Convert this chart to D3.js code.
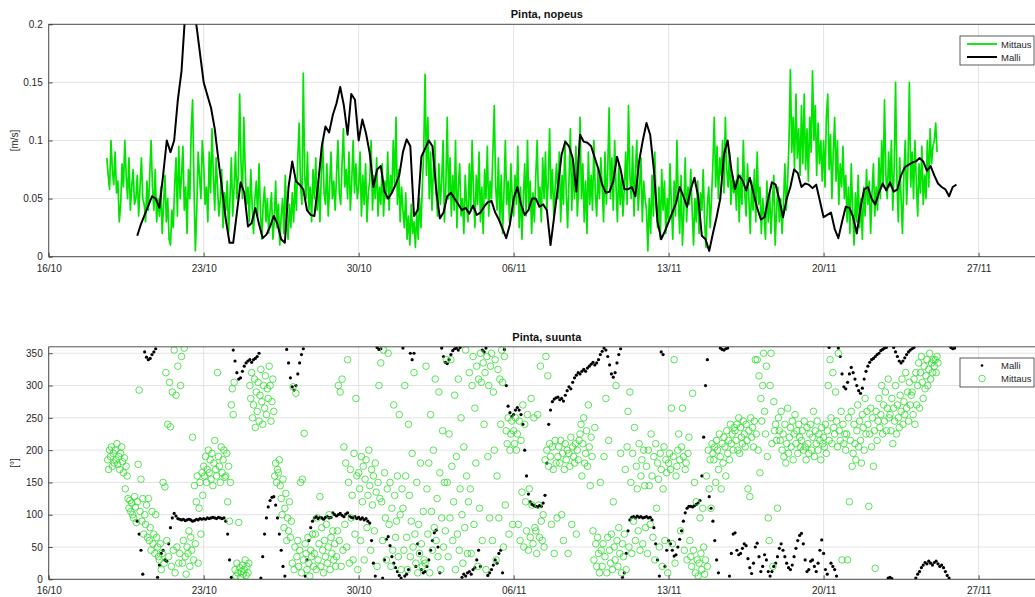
<!DOCTYPE html>
<html>
<head>
<meta charset="utf-8">
<script src="https://cdn.jsdelivr.net/npm/d3@7"></script>
<style>
body { margin: 0; background: #fff; }
svg { font-family: "Liberation Sans", Arial, Helvetica, sans-serif; }
</style>
</head>
<body>
<svg width="1035" height="597"></svg>
<script>
// x ticks (every 7 days) and y ticks
const dateTicks = ['2017-10-16', '2017-10-23', '2017-10-30', '2017-11-06', '2017-11-13', '2017-11-20', '2017-11-27'];
const speedTicks = [0, 0.05, 0.1, 0.15, 0.2];
const dirTicks = [0, 50, 100, 150, 200, 250, 300, 350];

// surface speed, measured (1.5 h steps), one row per day
const speedObsStart = '2017-10-18T15:00Z';
const speedObs = [
  0.085, 0.07, 0.058, 0.1, 0.075, 0.062,
  0.09, 0.055, 0.065, 0.03, 0.045, 0.08, 0.06, 0.1, 0.07, 0.05, 0.085, 0.04, 0.06, 0.075, 0.045, 0.05,
  0.07, 0.035, 0.06, 0.085, 0.05, 0.045, 0.03, 0.065, 0.04, 0.07, 0.1, 0.06, 0.04, 0.075, 0.03, 0.05,
  0.035, 0.06, 0.02, 0.045, 0.07, 0.03, 0.05, 0.015, 0.01, 0.04, 0.025, 0.06, 0.085, 0.035, 0.095, 0.05,
  0.07, 0.095, 0.04, 0.06, 0.02, 0.075, 0.05, 0.11, 0.135, 0.06, 0.005, 0.04, 0.09, 0.07, 0.05, 0.1,
  0.08, 0.045, 0.06, 0.03, 0.09, 0.055, 0.11, 0.07, 0.04, 0.085, 0.06, 0.035, 0.05, 0.075, 0.025, 0.055,
  0.04, 0.065, 0.02, 0.05, 0.085, 0.035, 0.06, 0.09, 0.05, 0.07, 0.14, 0.08, 0.05, 0.12, 0.075, 0.045,
  0.06, 0.03, 0.075, 0.045, 0.02, 0.05, 0.065, 0.035, 0.08, 0.04, 0.015, 0.045, 0.06, 0.03, 0.05, 0.02,
  0.04, 0.055, 0.015, 0.03, 0.065, 0.025, 0.045, 0.01, 0.035, 0.05, 0.02, 0.07, 0.03, 0.015, 0.045, 0.025,
  0.055, 0.03, 0.065, 0.04, 0.085, 0.115, 0.06, 0.045, 0.158, 0.07, 0.05, 0.09, 0.04, 0.06, 0.03, 0.075,
  0.05, 0.085, 0.04, 0.065, 0.03, 0.07, 0.1, 0.055, 0.045, 0.08, 0.035, 0.06, 0.09, 0.05, 0.065, 0.04,
  0.07, 0.1, 0.055, 0.045, 0.08, 0.11, 0.06, 0.075, 0.05, 0.09, 0.04, 0.065, 0.1, 0.055, 0.08, 0.05,
  0.06, 0.09, 0.035, 0.07, 0.045, 0.08, 0.03, 0.055, 0.065, 0.1, 0.04, 0.07, 0.05, 0.085, 0.035, 0.06,
  0.045, 0.08, 0.035, 0.065, 0.05, 0.09, 0.04, 0.07, 0.055, 0.1, 0.06, 0.12, 0.045, 0.075, 0.03, 0.06,
  0.04, 0.025, 0.055, 0.015, 0.035, 0.01, 0.045, 0.02, 0.03, 0.008, 0.04, 0.015, 0.05, 0.025, 0.06, 0.09,
  0.157, 0.07, 0.12, 0.05, 0.09, 0.04, 0.075, 0.1, 0.055, 0.035, 0.08, 0.045, 0.065, 0.1, 0.03, 0.06,
  0.12, 0.05, 0.085, 0.035, 0.07, 0.04, 0.1, 0.025, 0.06, 0.08, 0.035, 0.05, 0.02, 0.07, 0.045, 0.03,
  0.08, 0.04, 0.1, 0.055, 0.025, 0.07, 0.045, 0.09, 0.03, 0.06, 0.02, 0.075, 0.05, 0.095, 0.035, 0.065,
  0.05, 0.09, 0.13, 0.06, 0.04, 0.085, 0.03, 0.07, 0.02, 0.055, 0.1, 0.045, 0.065, 0.03, 0.08, 0.05,
  0.035, 0.07, 0.045, 0.095, 0.025, 0.06, 0.015, 0.05, 0.08, 0.035, 0.1, 0.04, 0.065, 0.02, 0.055, 0.03,
  0.07, 0.1, 0.045, 0.06, 0.03, 0.085, 0.05, 0.09, 0.04, 0.065, 0.11, 0.05, 0.075, 0.035, 0.06, 0.08,
  0.05, 0.09, 0.03, 0.07, 0.045, 0.1, 0.055, 0.025, 0.065, 0.11, 0.04, 0.08, 0.05, 0.095, 0.035, 0.06,
  0.12, 0.05, 0.08, 0.03, 0.065, 0.02, 0.09, 0.045, 0.07, 0.04, 0.1, 0.055, 0.035, 0.075, 0.05, 0.085,
  0.06, 0.03, 0.09, 0.045, 0.075, 0.128, 0.05, 0.085, 0.04, 0.1, 0.06, 0.03, 0.08, 0.045, 0.07, 0.035,
  0.06, 0.09, 0.045, 0.13, 0.07, 0.05, 0.095, 0.035, 0.075, 0.1, 0.04, 0.06, 0.085, 0.03, 0.065, 0.05,
  0.04, 0.005, 0.05, 0.02, 0.07, 0.035, 0.09, 0.045, 0.025, 0.06, 0.015, 0.075, 0.04, 0.065, 0.02, 0.05,
  0.03, 0.08, 0.045, 0.015, 0.065, 0.035, 0.1, 0.05, 0.02, 0.07, 0.01, 0.04, 0.085, 0.03, 0.06, 0.045,
  0.075, 0.04, 0.01, 0.05, 0.03, 0.065, 0.02, 0.055, 0.04, 0.075, 0.03, 0.008, 0.045, 0.06, 0.025, 0.05,
  0.08, 0.12, 0.06, 0.095, 0.05, 0.085, 0.07, 0.1, 0.055, 0.12, 0.075, 0.06, 0.09, 0.045, 0.07, 0.055,
  0.065, 0.04, 0.085, 0.03, 0.07, 0.045, 0.1, 0.055, 0.035, 0.08, 0.05, 0.02, 0.065, 0.04, 0.075, 0.03,
  0.09, 0.045, 0.06, 0.02, 0.05, 0.035, 0.015, 0.065, 0.03, 0.055, 0.02, 0.045, 0.07, 0.01, 0.04, 0.06,
  0.03, 0.05, 0.02, 0.045, 0.08, 0.04, 0.065, 0.1, 0.161, 0.09, 0.12, 0.075, 0.14, 0.085, 0.11, 0.07,
  0.13, 0.08, 0.14, 0.075, 0.11, 0.065, 0.12, 0.09, 0.16, 0.1, 0.13, 0.07, 0.115, 0.08, 0.1, 0.065,
  0.1, 0.06, 0.12, 0.14, 0.075, 0.105, 0.05, 0.09, 0.12, 0.065, 0.1, 0.045, 0.08, 0.06, 0.095, 0.05,
  0.07, 0.03, 0.06, 0.02, 0.08, 0.04, 0.01, 0.055, 0.03, 0.07, 0.025, 0.05, 0.015, 0.06, 0.035, 0.075,
  0.045, 0.065, 0.02, 0.055, 0.08, 0.035, 0.06, 0.04, 0.085, 0.05, 0.1, 0.06, 0.135, 0.07, 0.05, 0.09,
  0.06, 0.1, 0.04, 0.075, 0.15, 0.065, 0.03, 0.085, 0.05, 0.02, 0.07, 0.1, 0.045, 0.08, 0.15, 0.06,
  0.09, 0.05, 0.1, 0.065, 0.035, 0.08, 0.055, 0.095, 0.045, 0.07, 0.05, 0.1, 0.06, 0.11, 0.08, 0.095,
  0.1, 0.115, 0.09
];

// surface speed, model (4 h steps)
const speedModelStart = '2017-10-20T00:00Z';
const speedModel = [
  0.018, 0.028, 0.036, 0.044, 0.052, 0.050,
  0.042, 0.07, 0.100, 0.09, 0.10, 0.135,
  0.16, 0.21, 0.235, 0.23, 0.20, 0.175,
  0.15, 0.139, 0.128, 0.11, 0.083, 0.058,
  0.032, 0.012, 0.012, 0.038, 0.064, 0.055,
  0.026, 0.029, 0.042, 0.028, 0.016, 0.019,
  0.026, 0.035, 0.028, 0.015, 0.012, 0.06,
  0.082, 0.065, 0.062, 0.058, 0.04, 0.036,
  0.035, 0.062, 0.095, 0.112, 0.107, 0.122,
  0.132, 0.146, 0.13, 0.105, 0.14, 0.135,
  0.10, 0.118, 0.106, 0.089, 0.06, 0.075,
  0.078, 0.056, 0.05, 0.055, 0.062, 0.07,
  0.09, 0.101, 0.095, 0.035, 0.04, 0.086,
  0.093, 0.10, 0.095, 0.058, 0.033, 0.038,
  0.052, 0.055, 0.05, 0.045, 0.04, 0.042,
  0.037, 0.044, 0.036, 0.038, 0.043, 0.047,
  0.048, 0.038, 0.032, 0.024, 0.016, 0.028,
  0.05, 0.06, 0.045, 0.036, 0.04, 0.05,
  0.05, 0.043, 0.045, 0.04, 0.01, 0.035,
  0.06, 0.088, 0.099, 0.095, 0.085, 0.056,
  0.105, 0.099, 0.098, 0.095, 0.085, 0.075,
  0.062, 0.055, 0.056, 0.065, 0.086, 0.075,
  0.058, 0.058, 0.06, 0.052, 0.082, 0.10,
  0.115, 0.105, 0.075, 0.03, 0.015, 0.022,
  0.03, 0.038, 0.046, 0.06, 0.052, 0.043,
  0.058, 0.068, 0.052, 0.018, 0.015, 0.005,
  0.02, 0.034, 0.05, 0.088, 0.10, 0.075,
  0.058, 0.07, 0.066, 0.057, 0.068, 0.055,
  0.042, 0.032, 0.034, 0.05, 0.064, 0.062,
  0.049, 0.034, 0.05, 0.06, 0.075, 0.072,
  0.06, 0.063, 0.062, 0.059, 0.062, 0.048,
  0.034, 0.036, 0.038, 0.024, 0.016, 0.03,
  0.043, 0.042, 0.034, 0.02, 0.042, 0.058,
  0.06, 0.05, 0.045, 0.055, 0.063, 0.057,
  0.064, 0.056, 0.058, 0.07, 0.077, 0.079,
  0.081, 0.082, 0.085, 0.082, 0.074, 0.078,
  0.07, 0.063, 0.06, 0.058, 0.052, 0.06,
  0.062
];

// surface direction, measured (1 h steps), one row per day
const dirObsStart = '2017-10-18T16:00Z';
const dirObs = [
  185, 170, 200, 190, 205, 175, 195, 180,
  200, 185, 210, 178, 190, 170, 195, 205, 182, 165, 188, 140, 175, 160, 125, 110, 122, 105, 118, 100, 95, 128, 112, 88,
  120, 178, 293, 105, 155, 90, 125, 70, 100, 85, 115, 65, 125, 60, 80, 45, 105, 55, 70, 40, 100, 65, 50, 35,
  30, 55, 15, 40, 150, 25, 143, 320, 60, 240, 35, 305, 236, 20, 290, 45, 355, 10, 285, 50, 330, 25, 40, 300,
  345, 25, 60, 358, 35, 8, 50, 40, 75, 20, 65, 45, 220, 30, 145, 55, 120, 160, 25, 110, 150, 70, 165, 130,
  175, 160, 190, 150, 170, 200, 165, 185, 155, 195, 145, 180, 215, 170, 160, 320, 190, 175, 150, 205, 165, 185, 200, 158,
  160, 195, 120, 175, 90, 150, 270, 295, 255, 305, 15, 5, 25, 10, 88, 18, 3, 12, 22, 8, 15, 30, 6, 20,
  10, 25, 300, 280, 320, 250, 270, 310, 235, 290, 260, 305, 245, 285, 325, 275, 240, 300, 265, 315, 255, 295, 280, 330,
  300, 245, 275, 310, 260, 160, 180, 150, 170, 165, 185, 145, 125, 100, 155, 80, 110, 133, 60, 95, 75, 120, 65, 90,
  25, 298, 15, 50, 288, 35, 60, 20, 45, 150, 10, 155, 30, 226, 55, 40, 15, 65, 25, 5, 45, 35, 70, 20,
  40, 70, 15, 95, 30, 55, 128, 20, 80, 45, 10, 60, 35, 85, 25, 50, 100, 15, 65, 40, 75, 30, 55, 20,
  35, 75, 300, 60, 290, 20, 310, 45, 205, 85, 180, 50, 340, 150, 25, 170, 95, 130, 30, 195, 70, 280, 160, 15,
  165, 140, 60, 190, 120, 175, 30, 155, 185, 80, 130, 200, 145, 45, 170, 115, 160, 75, 180, 135, 20, 150, 300, 125,
  335, 120, 60, 355, 165, 95, 30, 140, 350, 85, 150, 20, 110, 45, 270, 130, 65, 90, 160, 35, 255, 100, 15, 140,
  110, 45, 300, 160, 65, 15, 240, 130, 35, 90, 195, 50, 320, 70, 25, 150, 10, 85, 40, 180, 55, 20, 105, 30,
  25, 330, 140, 70, 180, 10, 255, 105, 45, 200, 80, 310, 60, 125, 35, 290, 165, 15, 95, 230, 50, 150, 75, 340,
  150, 35, 225, 95, 340, 175, 60, 120, 285, 15, 190, 70, 310, 45, 140, 250, 100, 25, 205, 80, 355, 160, 40, 120,
  320, 140, 40, 300, 345, 85, 265, 180, 330, 20, 310, 110, 350, 305, 60, 335, 240, 320, 15, 345, 190, 300, 95, 330,
  350, 60, 290, 200, 340, 30, 160, 325, 95, 310, 240, 355, 305, 50, 345, 115, 230, 210, 250, 70, 200, 225, 245, 85,
  230, 210, 250, 200, 225, 85, 245, 60, 215, 135, 270, 50, 240, 120, 75, 255, 45, 140, 65, 280, 115, 55, 250, 80,
  75, 40, 255, 115, 65, 330, 90, 60, 100, 50, 185, 345, 200, 315, 175, 210, 190, 85, 205, 170, 40, 215, 180, 95,
  190, 205, 180, 215, 100, 195, 60, 170, 210, 185, 200, 40, 195, 175, 220, 85, 205, 190, 180, 210, 70, 200, 185, 215,
  225, 240, 160, 210, 250, 180, 195, 230, 175, 270, 205, 145, 220, 190, 75, 30, 235, 55, 20, 65, 40, 10, 150, 45,
  20, 55, 190, 35, 280, 10, 65, 215, 45, 25, 70, 15, 120, 50, 30, 300, 60, 20, 80, 40, 195, 10, 55, 35,
  70, 170, 15, 205, 260, 50, 290, 150, 40, 195, 90, 235, 60, 175, 140, 75, 210, 45, 160, 185, 55, 200, 145, 80,
  175, 40, 200, 145, 85, 225, 160, 65, 190, 30, 210, 110, 180, 155, 50, 195, 170, 20, 140, 205, 60, 185, 165, 10,
  180, 195, 170, 265, 55, 190, 340, 25, 160, 175, 200, 225, 185, 75, 205, 265, 190, 45, 170, 180, 30, 195, 220, 60,
  35, 20, 288, 45, 150, 10, 120, 30, 5, 25, 95, 40, 15, 110, 50, 8, 30, 160, 20, 200, 140, 185, 110, 210,
  195, 185, 205, 150, 215, 200, 170, 225, 190, 140, 210, 180, 220, 205, 160, 230, 195, 215, 185, 240, 210, 225, 200, 235,
  230, 215, 240, 200, 250, 195, 235, 220, 210, 245, 225, 205, 240, 215, 140, 230, 128, 250, 220, 235, 205, 245, 340, 225,
  340, 200, 315, 165, 280, 245, 300, 350, 260, 225, 330, 190, 95, 60, 300, 350, 210, 20, 275, 230, 240, 215, 110, 250,
  230, 215, 260, 200, 225, 190, 240, 180, 210, 265, 195, 220, 235, 205, 245, 185, 225, 255, 210, 230, 195, 240, 220, 205,
  215, 230, 200, 245, 205, 185, 235, 210, 195, 225, 240, 200, 220, 260, 190, 230, 210, 245, 200, 225, 215, 185, 235, 210,
  220, 205, 240, 195, 230, 300, 215, 340, 250, 210, 320, 235, 225, 290, 245, 205, 350, 230, 215, 260, 30, 240, 210, 225,
  200, 225, 30, 250, 120, 215, 260, 175, 195, 240, 210, 185, 230, 270, 205, 245, 215, 180, 255, 235, 200, 280, 225, 260,
  240, 113, 225, 265, 205, 250, 175, 230, 17, 260, 215, 245, 280, 235, 255, 300, 225, 270, 245, 290, 230, 265, 310, 250,
  255, 230, 280, 210, 265, 245, 300, 225, 270, 250, 235, 285, 260, 310, 240, 275, 255, 320, 265, 290, 245, 305, 270, 285,
  290, 255, 310, 240, 320, 270, 300, 335, 265, 320, 345, 305, 280, 330, 295, 315, 340, 300, 325, 350, 310, 335, 320, 340,
  330, 340, 320, 345, 335
];

// surface direction, model (2 h steps), one row per day
const dirModelStart = '2017-10-20T00:00Z';
const dirModel = [
  90, 70, 45, 8, 352, 344, 340, 342, 348, 352, 357, 3,
  22, 40, 45, 30, 28, 55, 80, 95, 102, 98, 94, 93,
  92, 93, 91, 92, 93, 92, 90, 91, 93, 92, 94, 93,
  94, 93, 95, 94, 95, 96, 95, 94, 96, 95, 94, 95,
  90, 70, 30, 3, 355, 338, 320, 310, 312, 322, 330, 335,
  338, 340, 336, 340, 342, 345, 350, 2, 35, 70, 95, 112,
  122, 127, 128, 115, 95, 70, 45, 20, 5, 356, 335, 312,
  298, 293, 300, 318, 335, 348, 357, 5, 30, 60, 80, 90,
  95, 97, 94, 96, 95, 93, 96, 97, 95, 96, 103, 100,
  98, 100, 102, 99, 97, 101, 103, 98, 96, 95, 97, 94,
  96, 93, 95, 92, 94, 90, 87, 60, 25, 5, 359, 356,
  357, 2, 30, 62, 66, 52, 35, 25, 18, 12, 6, 2,
  358, 5, 8, 15, 350, 340, 350, 20, 55, 40, 15, 10,
  12, 20, 30, 45, 60, 72, 76, 50, 10, 358, 345, 336,
  334, 340, 348, 354, 357, 358, 355, 359, 3, 8, 5, 10,
  12, 8, 15, 18, 30, 45, 20, 355, 352, 358, 6, 10,
  15, 22, 30, 25, 40, 45, 10, 356, 300, 268, 258, 252,
  255, 262, 266, 262, 255, 240, 200, 160, 132, 120, 116, 114,
  113, 112, 114, 113, 118, 130, 180, 240, 262, 275, 279, 281,
  282, 278, 280, 276, 285, 292, 298, 295, 305, 312, 316, 320,
  318, 322, 325, 322, 327, 330, 333, 336, 332, 335, 340, 348,
  353, 358, 355, 345, 332, 318, 313, 320, 335, 348, 357, 3,
  10, 40, 75, 92, 96, 97, 95, 98, 96, 97, 95, 96,
  97, 95, 96, 92, 80, 55, 30, 5, 352, 348, 20, 45,
  60, 55, 45, 36, 38, 50, 62, 75, 90, 103, 110, 113,
  113, 112, 114, 116, 118, 122, 160, 220, 300, 340, 128, 110,
  90, 60, 30, 10, 358, 356, 355, 357, 358, 5, 40, 70,
  72, 45, 38, 40, 48, 55, 52, 32, 18, 9, 25, 50,
  56, 35, 12, 20, 38, 30, 12, 5, 12, 20, 25, 35,
  48, 55, 45, 35, 25, 18, 15, 22, 35, 48, 60, 68,
  71, 55, 30, 12, 15, 28, 30, 20, 12, 25, 45, 61,
  40, 15, 8, 359, 25, 20, 15, 5, 358, 345, 318, 298,
  295, 305, 318, 328, 320, 310, 300, 292, 288, 296, 310, 322,
  330, 336, 340, 342, 345, 348, 350, 354, 356, 358, 359, 2,
  3, 1, 359, 352, 345, 338, 335, 338, 343, 348, 352, 355,
  357, 359, 2, 8, 12, 18, 22, 26, 24, 28, 25, 22,
  26, 28, 24, 20, 22, 18, 12, 6, 2, 359, 357, 358
];

const HOUR = 3600e3;
function series(start, stepHours, values) {
  const t0 = Date.parse(start);
  return values.map((v, i) => ({ t: new Date(t0 + i * stepHours * HOUR), v }));
}

const svg = d3.select('svg');
const left = 48.7, right = 1045;
const x = d3.scaleUtc()
  .domain([new Date(Date.parse('2017-10-16T00:00Z')), new Date(Date.parse('2017-11-30T00:00Z'))])
  .range([left, right]);
const tickDates = dateTicks.map(d => new Date(Date.parse(d + 'T00:00Z')));
const fmt = d3.utcFormat('%d/%m');

const axisColor = '#262626';
const green = '#00e400';
const circleGreen = '#2ddc2d';

function panel(top, bottom, yDomain, yTickVals, title, ylabel, id) {
  const y = d3.scaleLinear().domain(yDomain).range([bottom, top]);
  const g = svg.append('g');

  svg.append('clipPath').attr('id', id)
    .append('rect').attr('x', left).attr('y', top).attr('width', right - left).attr('height', bottom - top);

  // grid
  g.append('g').selectAll('line').data(tickDates).join('line')
    .attr('x1', d => x(d)).attr('x2', d => x(d)).attr('y1', top).attr('y2', bottom)
    .attr('stroke', '#e3e3e3').attr('stroke-width', 1);
  g.append('g').selectAll('line').data(yTickVals).join('line')
    .attr('x1', left).attr('x2', right).attr('y1', d => y(d)).attr('y2', d => y(d))
    .attr('stroke', '#e3e3e3').attr('stroke-width', 1);

  const plot = g.append('g').attr('clip-path', `url(#${id})`);

  // axes, ticks point inwards like matlab
  const xa = g.append('g').attr('transform', `translate(0,${bottom})`)
    .call(d3.axisBottom(x).tickValues(tickDates).tickFormat(fmt).tickSizeInner(-4).tickSizeOuter(0).tickPadding(8));
  const ya = g.append('g').attr('transform', `translate(${left},0)`)
    .call(d3.axisLeft(y).tickValues(yTickVals).tickFormat(d => String(d)).tickSizeInner(-4).tickSizeOuter(0).tickPadding(6));
  [xa, ya].forEach(a => {
    a.select('.domain').remove();
    a.selectAll('line').attr('stroke', axisColor).attr('stroke-width', 0.8);
    a.selectAll('text').attr('fill', axisColor).attr('font-size', 10);
  });

  // frame
  g.append('path')
    .attr('d', `M${right},${top}H${left}V${bottom}H${right}`)
    .attr('fill', 'none').attr('stroke', axisColor).attr('stroke-width', 0.8);

  g.append('text').attr('x', (left + right) / 2).attr('y', top - 6)
    .attr('text-anchor', 'middle').attr('font-size', 11).attr('font-weight', 'bold')
    .attr('fill', '#111').text(title);
  g.append('text')
    .attr('transform', `translate(18,${(top + bottom) / 2}) rotate(-90)`)
    .attr('text-anchor', 'middle').attr('font-size', 10).attr('fill', axisColor).text(ylabel);

  return { y, plot, g };
}

// top panel: speed
const p1 = panel(24.3, 256.7, [0, 0.2], speedTicks, 'Pinta, nopeus', '[m/s]', 'clipTop');
const line1 = d3.line().x(d => x(d.t)).y(d => p1.y(d.v));
p1.plot.append('path').datum(series(speedObsStart, 1.5, speedObs))
  .attr('d', line1).attr('fill', 'none').attr('stroke', green).attr('stroke-width', 1.7)
  .attr('stroke-linejoin', 'round');
p1.plot.append('path').datum(series(speedModelStart, 4, speedModel))
  .attr('d', line1).attr('fill', 'none').attr('stroke', '#000').attr('stroke-width', 2)
  .attr('stroke-linejoin', 'round');

// legend top
const lg1 = svg.append('g').attr('transform', 'translate(960,36)');
lg1.append('rect').attr('width', 74).attr('height', 29).attr('fill', '#fff').attr('stroke', '#333').attr('stroke-width', 0.8);
lg1.append('line').attr('x1', 7).attr('x2', 37).attr('y1', 8).attr('y2', 8).attr('stroke', green).attr('stroke-width', 1.8);
lg1.append('line').attr('x1', 7).attr('x2', 37).attr('y1', 21).attr('y2', 21).attr('stroke', '#000').attr('stroke-width', 2);
lg1.append('text').attr('x', 41).attr('y', 11.5).attr('font-size', 9.5).attr('fill', axisColor).text('Mittaus');
lg1.append('text').attr('x', 41).attr('y', 24.5).attr('font-size', 9.5).attr('fill', axisColor).text('Malli');

// bottom panel: direction
const p2 = panel(346.8, 579.3, [0, 360], dirTicks, 'Pinta, suunta', '[°]', 'clipBot');
p2.plot.append('g').selectAll('circle').data(series(dirModelStart, 2, dirModel)).join('circle')
  .attr('cx', d => x(d.t)).attr('cy', d => p2.y(d.v)).attr('r', 1.6).attr('fill', '#000');
p2.plot.append('g').selectAll('circle').data(series(dirObsStart, 1, dirObs)).join('circle')
  .attr('cx', d => x(d.t)).attr('cy', d => p2.y(d.v)).attr('r', 3.3)
  .attr('fill', 'none').attr('stroke', circleGreen).attr('stroke-width', 0.8);

// legend bottom
const lg2 = svg.append('g').attr('transform', 'translate(960,358)');
lg2.append('rect').attr('width', 74).attr('height', 29).attr('fill', '#fff').attr('stroke', '#333').attr('stroke-width', 0.8);
lg2.append('circle').attr('cx', 22).attr('cy', 7.5).attr('r', 1.3).attr('fill', '#000');
lg2.append('circle').attr('cx', 22).attr('cy', 20.5).attr('r', 3.3).attr('fill', 'none').attr('stroke', circleGreen).attr('stroke-width', 0.8);
lg2.append('text').attr('x', 41).attr('y', 11).attr('font-size', 9.5).attr('fill', axisColor).text('Malli');
lg2.append('text').attr('x', 41).attr('y', 24).attr('font-size', 9.5).attr('fill', axisColor).text('Mittaus');
</script>
</body>
</html>
